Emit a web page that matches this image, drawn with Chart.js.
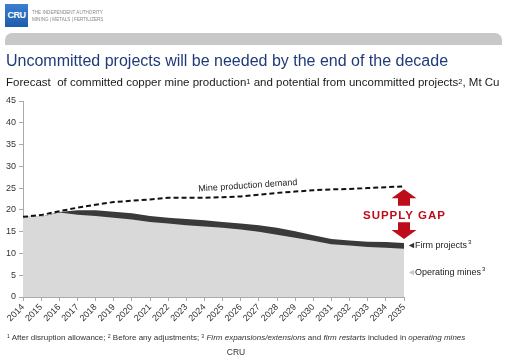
<!DOCTYPE html>
<html>
<head>
<meta charset="utf-8">
<script src="https://cdn.jsdelivr.net/npm/chart.js@4.4.1/dist/chart.umd.min.js"></script>
<style>
  html, body { margin:0; padding:0; background:#fff; }
  body { width:506px; height:359px; position:relative; overflow:hidden; font-family:"Liberation Sans", Arial, sans-serif; }
  #wrap { position:absolute; left:0; top:0; width:506px; height:359px; }
  .abs { position:absolute; white-space:nowrap; }
  #logo { left:5px; top:4px; width:23px; height:23px; background:linear-gradient(#3b7fd0,#1d5bab); color:#fff; font-weight:bold; font-size:9px; line-height:23px; text-align:center; letter-spacing:-0.5px; }
  #logotxt { left:32px; top:8.5px; font-size:4.6px; line-height:7px; color:#888; }
  #bar { left:5px; top:33px; width:497px; height:12px; background:#c8c8c8; border-radius:7px 7px 0 0; }
  #title { left:6px; top:53px; font-size:16px; line-height:16px; color:#1f3b78; }
  #sub { left:6px; top:77px; font-size:11.5px; line-height:11.5px; color:#1a1a1a; }
  #foot { left:7px; top:333.5px; font-size:8px; line-height:8px; color:#333; }
  #src { left:0; width:472px; text-align:center; top:348px; font-size:8.5px; line-height:8.5px; color:#333; }
  sup { font-size:65%; vertical-align:top; position:relative; top:-0.2em; }
</style>
</head>
<body>
<div id="wrap"><canvas id="c" width="506" height="359"></canvas></div>
<div class="abs" id="logo">CRU</div>
<div class="abs" id="logotxt">THE INDEPENDENT AUTHORITY<br>MINING | METALS | FERTILIZERS</div>
<div class="abs" id="bar"></div>
<div class="abs" id="title">Uncommitted projects will be needed by the end of the decade</div>
<div class="abs" id="sub">Forecast &nbsp;of committed copper mine production<sup>1</sup> and potential from uncommitted projects<sup>2</sup>, Mt Cu</div>
<div class="abs" id="foot"><sup>1</sup> After disruption allowance; <sup>2</sup> Before any adjustments; <sup>3</sup> <i>Firm expansions/extensions</i> and <i>firm restarts</i> included in <i>operating mines</i></div>
<div class="abs" id="src">CRU</div>
<script>
const years = ["2014","2015","2016","2017","2018","2019","2020","2021","2022","2023","2024","2025","2026","2027","2028","2029","2030","2031","2032","2033","2034","2035"];
const operatingMines = [18.4,18.4,19.4,18.9,18.6,18.2,17.8,17.2,16.9,16.5,16.2,15.9,15.5,15.0,14.3,13.6,12.9,12.1,11.8,11.5,11.3,11.1];
const firmProjects   = [0.0,0.0,0.1,1.0,1.3,1.4,1.4,1.4,1.3,1.4,1.4,1.3,1.4,1.5,1.6,1.5,1.3,1.2,1.2,1.2,1.3,1.3];
const mineDemand     = [18.4,18.8,19.7,20.5,21.2,21.8,22.1,22.4,22.8,22.8,22.8,22.9,23.1,23.5,23.9,24.2,24.5,24.7,24.8,25.0,25.2,25.4];
const yTicks = [0,5,10,15,20,25,30,35,40,45];

const committedTop = operatingMines.map((v,i)=>+(v+firmProjects[i]).toFixed(2));
const FONT = '"Liberation Sans", Arial, sans-serif';

const annot = {
  id:'annot',
  afterDatasetsDraw(chart){
    const ctx = chart.ctx, xs = chart.scales.x, ys = chart.scales.y;
    const last = years.length-1;
    const xL = xs.getPixelForValue(last);
    const yD = ys.getPixelForValue(mineDemand[last]);
    const yF = ys.getPixelForValue(committedTop[last]);
    const yMid = (yD+yF)/2;
    ctx.save();
    // supply gap text
    ctx.fillStyle = '#bd0d1b';
    ctx.font = 'bold 11.5px ' + FONT;
    ctx.textAlign = 'center'; ctx.textBaseline = 'middle';
    if ('letterSpacing' in ctx) ctx.letterSpacing = '1px';
    ctx.fillText('SUPPLY GAP', xL + 0.5, yMid+1);
    if ('letterSpacing' in ctx) ctx.letterSpacing = '0px';
    // arrows
    const headW = 12.5, shaftW = 6, headH = 9;
    function arrow(tipY, baseY){
      const dir = Math.sign(baseY - tipY);
      const hb = tipY + dir*headH;
      ctx.beginPath();
      ctx.moveTo(xL, tipY);
      ctx.lineTo(xL+headW, hb);
      ctx.lineTo(xL+shaftW, hb);
      ctx.lineTo(xL+shaftW, baseY);
      ctx.lineTo(xL-shaftW, baseY);
      ctx.lineTo(xL-shaftW, hb);
      ctx.lineTo(xL-headW, hb);
      ctx.closePath();
      ctx.fill();
    }
    arrow(yD+3, yMid-9);
    arrow(yF-4, yMid+7.5);
    // series labels
    ctx.textAlign = 'left';
    ctx.font = '9px ' + FONT;
    const yFirm = ys.getPixelForValue(operatingMines[last] + firmProjects[last]/2);
    ctx.fillStyle = '#333';
    ctx.fillText('\u25C4', xL+3, yFirm);
    ctx.fillStyle = '#1a1a1a';
    ctx.fillText('Firm projects', xL+11, yFirm);
    let w = ctx.measureText('Firm projects').width;
    ctx.font = '6px ' + FONT;
    ctx.fillText('3', xL+11+w+1, yFirm-3);
    ctx.font = '9px ' + FONT;
    const yOp = ys.getPixelForValue(operatingMines[last]/2);
    ctx.fillStyle = '#c8c8c8';
    ctx.fillText('\u25C4', xL+3, yOp);
    ctx.fillStyle = '#1a1a1a';
    ctx.fillText('Operating mines', xL+11, yOp);
    w = ctx.measureText('Operating mines').width;
    ctx.font = '6px ' + FONT;
    ctx.fillText('3', xL+11+w+1, yOp-3);
    // demand label
    const i1 = 10, i2 = 15;
    const x1 = xs.getPixelForValue(i1), x2 = xs.getPixelForValue(i2);
    const y1 = ys.getPixelForValue(mineDemand[i1]), y2 = ys.getPixelForValue(mineDemand[i2]);
    const ang = Math.atan2(y2-y1, x2-x1);
    ctx.translate((x1+x2)/2 - 2, (y1+y2)/2 - 9);
    ctx.rotate(ang);
    ctx.font = '9px ' + FONT;
    ctx.fillStyle = '#1a1a1a';
    ctx.textAlign = 'center';
    ctx.fillText('Mine production demand', 0, 0);
    ctx.restore();
  }
};

new Chart(document.getElementById('c'), {
  type:'line',
  data:{
    labels: years,
    datasets:[
      { label:'Mine production demand', data: mineDemand, borderColor:'#111', borderWidth:2, borderDash:[5,3], pointRadius:0, fill:false, tension:0, order:0 },
      { label:'Operating mines', data: operatingMines, borderWidth:0, borderColor:'rgba(0,0,0,0)', backgroundColor:'#d9d9d9', pointRadius:0, fill:'origin', tension:0, order:1 },
      { label:'Firm projects', data: committedTop, borderWidth:0, borderColor:'rgba(0,0,0,0)', backgroundColor:'#3a3a3a', pointRadius:0, fill:'origin', tension:0, order:2 }
    ]
  },
  options:{
    responsive:false, animation:false,
    layout:{ padding:{ left:0, top:101, right:102, bottom:32 } },
    plugins:{ legend:{display:false}, tooltip:{enabled:false} },
    scales:{
      x:{
        offset:false,
        grid:{ display:true, drawOnChartArea:false, drawTicks:true, tickLength:4, color:'#aaa' },
        border:{ display:true, color:'#aaa' },
        ticks:{ minRotation:45, maxRotation:45, autoSkip:false, color:'#333', font:{ size:9, family:FONT }, padding:1 },
        afterFit(s){ s.height = 30; }
      },
      y:{
        min:0, max:45,
        afterBuildTicks(s){ s.ticks = yTicks.map(v=>({value:v})); },
        grid:{ display:true, drawOnChartArea:false, drawTicks:true, tickLength:4, color:'#aaa' },
        border:{ display:true, color:'#aaa' },
        ticks:{ color:'#333', font:{ size:9, family:FONT }, padding:3 },
        afterFit(s){ s.width = 23; }
      }
    }
  },
  plugins:[annot]
});
</script>
</body>
</html>
